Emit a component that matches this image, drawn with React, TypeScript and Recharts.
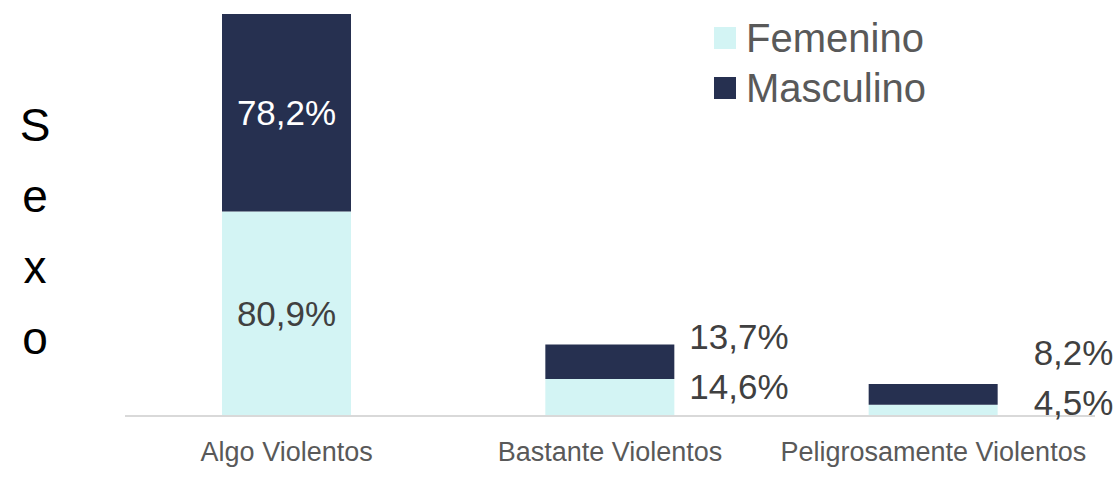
import React from 'react';
import { BarChart, Bar, XAxis, YAxis, LabelList } from 'recharts';

const categories = ['Algo Violentos', 'Bastante Violentos', 'Peligrosamente Violentos'];
const femenino = [80.9, 14.6, 4.5];
const masculino = [78.2, 13.7, 8.2];

const data = categories.map((name, i) => ({ name, femenino: femenino[i], masculino: masculino[i] }));

const FEM = '#d3f4f4';
const MAS = '#263050';

// label placement for the small bars (index 1 and 2 sit right of the bar)
const labelDx = [0, 15, 36];
const femDy = [0, -11, -8];
const masDy = [0, -25, -42];

const fmt = (v: number) => v.toFixed(1).replace('.', ',') + '%';

const makeLabel = (dys: number[], insideFill: string) => (props: any) => {
  const { x, y, width, height, value, index } = props;
  const cy = y + height / 2;
  if (index === 0) {
    return (
      <text x={x + width / 2} y={cy} textAnchor="middle" dominantBaseline="central"
        fontSize={35} fill={insideFill} fontFamily="Liberation Sans, Arial, sans-serif">
        {fmt(value)}
      </text>
    );
  }
  return (
    <text x={x + width + labelDx[index]} y={cy + dys[index]} textAnchor="start" dominantBaseline="central"
      fontSize={35} fill="#404040" fontFamily="Liberation Sans, Arial, sans-serif">
      {fmt(value)}
    </text>
  );
};

const LegendBox = () => (
  <div style={{ position: 'absolute', left: 714, top: 13, fontFamily: 'Liberation Sans, Arial, sans-serif', fontSize: 40, color: '#595959' }}>
    {[['Femenino', FEM], ['Masculino', MAS]].map(([n, c]) => (
      <div key={n} style={{ display: 'flex', alignItems: 'center', height: 50 }}>
        <span style={{ width: 22, height: 22, background: c, marginRight: 10, display: 'inline-block' }} />
        <span>{n}</span>
      </div>
    ))}
  </div>
);

export default function App() {
  return (
    <div style={{ position: 'absolute', left: 0, top: 0, width: 1113, height: 477, background: '#fff' }}>
      <svg width={80} height={477} style={{ position: 'absolute', left: 0, top: 0 }}>
        {['S', 'e', 'x', 'o'].map((ch, i) => (
          <text key={i} x={35} y={125 + i * 71} textAnchor="middle" dominantBaseline="central"
            fontSize={46} fill="#000" fontFamily="Liberation Sans, Arial, sans-serif">
            {ch}
          </text>
        ))}
      </svg>
      <BarChart width={1113} height={477} data={data}
        margin={{ top: 14, right: 18, left: 125, bottom: 16 }} barCategoryGap="30%">
        <XAxis dataKey="name" height={45} tickLine={false} axisLine={{ stroke: '#d9d9d9', strokeWidth: 2 }}
          tickMargin={20}
          tick={{ fontSize: 27, fill: '#595959', fontFamily: 'Liberation Sans, Arial, sans-serif' }} />
        <YAxis hide domain={[0, 159.1]} allowDataOverflow />
        <Bar dataKey="femenino" stackId="a" fill={FEM} isAnimationActive={false}>
          <LabelList dataKey="femenino" content={makeLabel(femDy, '#404040')} />
        </Bar>
        <Bar dataKey="masculino" stackId="a" fill={MAS} isAnimationActive={false}>
          <LabelList dataKey="masculino" content={makeLabel(masDy, '#ffffff')} />
        </Bar>
      </BarChart>
      <LegendBox />
    </div>
  );
}
